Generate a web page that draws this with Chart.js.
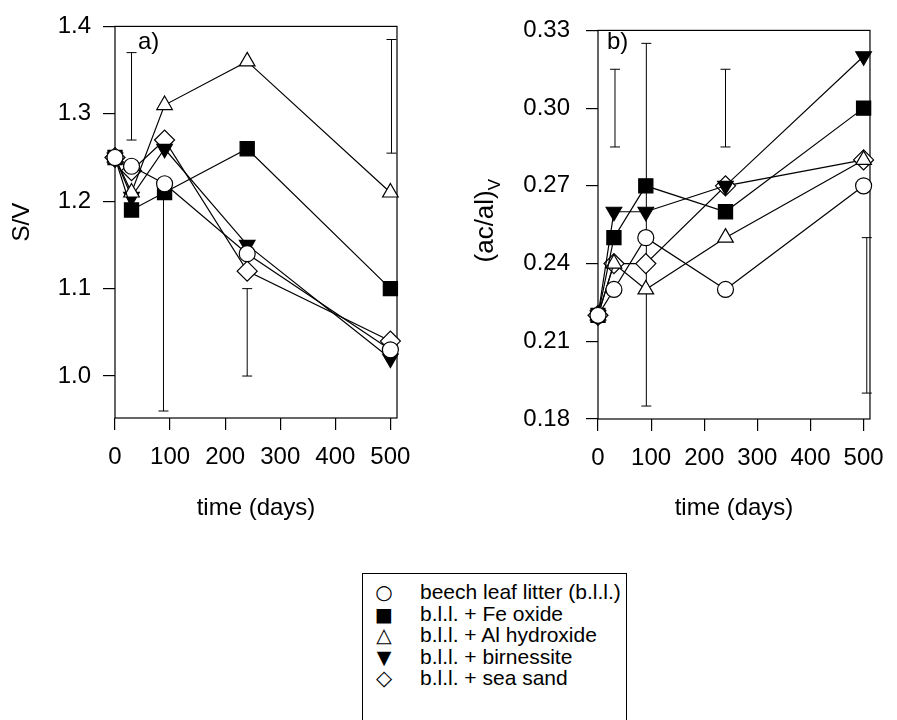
<!DOCTYPE html>
<html>
<head>
<meta charset="utf-8">
<script src="https://cdn.jsdelivr.net/npm/chart.js@4.4.0/dist/chart.umd.min.js"></script>
<style>
  body { margin: 0; background: #fff; width: 897px; height: 720px; overflow: hidden; position: relative;
         font-family: "Liberation Sans", Arial, sans-serif; }
  #chartA { position: absolute; left: 0; top: 0; }
  #chartB { position: absolute; left: 440px; top: 0; }
  #legend { position: absolute; left: 362px; top: 573px; width: 265px; height: 170px;
            border: 1px solid #000; box-sizing: border-box; }
  .row { position: absolute; left: 0; height: 22px; line-height: 22px; font-size: 21px; color: #000; }
  .mk { position: absolute; left: 8px; width: 26px; text-align: center; font-family: "DejaVu Sans"; }
  .tx { position: absolute; left: 57px; white-space: nowrap; }
</style>
</head>
<body>
<canvas id="chartA" width="440" height="545"></canvas>
<canvas id="chartB" width="457" height="545"></canvas>
<div id="legend"></div>
<script>
// sampling times (days)
const days = [0, 30, 90, 240, 500];
const dayTicks = [0, 100, 200, 300, 400, 500];

const seriesNames = [
  'beech leaf litter (b.l.l.)',
  'b.l.l. + Fe oxide',
  'b.l.l. + Al hydroxide',
  'b.l.l. + birnessite',
  'b.l.l. + sea sand'
];

// a) S/V
const svBeech = [1.25, 1.24, 1.22, 1.14, 1.03];
const svFe    = [1.25, 1.19, 1.21, 1.26, 1.10];
const svAl    = [1.25, 1.21, 1.31, 1.36, 1.21];
const svBirn  = [1.25, 1.205, 1.26, 1.15, 1.02];
const svSand  = [1.25, 1.235, 1.27, 1.12, 1.04];
const svTicks = [1.0, 1.1, 1.2, 1.3, 1.4];
const svErrDays = [30, 88, 240, 502];
const svErrLow  = [1.27, 0.96, 1.00, 1.255];
const svErrHigh = [1.37, 1.21, 1.10, 1.385];

// b) (ac/al)V
const acBeech = [0.22, 0.23, 0.25, 0.23, 0.27];
const acFe    = [0.22, 0.25, 0.27, 0.26, 0.30];
const acAl    = [0.22, 0.24, 0.23, 0.25, 0.28];
const acBirn  = [0.22, 0.26, 0.26, 0.27, 0.32];
const acSand  = [0.22, 0.24, 0.24, 0.27, 0.28];
const acTicks = [0.18, 0.21, 0.24, 0.27, 0.30, 0.33];
const acErrDays = [32, 91, 240, 506];
const acErrLow  = [0.285, 0.185, 0.285, 0.19];
const acErrHigh = [0.315, 0.325, 0.315, 0.25];

const FONT = '"Liberation Sans", Arial, sans-serif';
const markers = [
  { style: 'circle',   rot: 0,   r: 8,  fill: '#fff', glyph: '\u25CB', gsize: 20 },
  { style: 'rect',     rot: 0,   r: 10, fill: '#000', glyph: '\u25A0', gsize: 19 },
  { style: 'triangle', rot: 0,   r: 9,  fill: '#fff', glyph: '\u25B3', gsize: 20 },
  { style: 'triangle', rot: 180, r: 9,  fill: '#000', glyph: '\u25BC', gsize: 19 },
  { style: 'rectRot',  rot: 0,   r: 10, fill: '#fff', glyph: '\u25C7', gsize: 21 }
];

// box round the plot area
const framePlugin = {
  id: 'frame',
  beforeDatasetsDraw(chart) {
    const a = chart.chartArea, ctx = chart.ctx;
    ctx.save();
    ctx.strokeStyle = '#000';
    ctx.lineWidth = 1.2;
    ctx.strokeRect(a.left, a.top, a.right - a.left, a.bottom - a.top);
    ctx.restore();
  }
};

// panel letter and the subscripted y title
const textPlugin = {
  id: 'panelText',
  afterDraw(chart, args, opts) {
    const a = chart.chartArea, ctx = chart.ctx;
    ctx.save();
    ctx.fillStyle = '#000';
    ctx.font = '24px ' + FONT;
    ctx.textBaseline = 'alphabetic';
    ctx.textAlign = 'left';
    ctx.fillText(opts.label, a.left + opts.labelDx, 49);
    if (opts.yTitle) {
      ctx.translate(opts.yTitleX, (a.top + a.bottom) / 2 - 4);
      ctx.rotate(-Math.PI / 2);
      ctx.font = '26px ' + FONT;
      const w1 = ctx.measureText(opts.yTitle).width;
      ctx.font = '17px ' + FONT;
      const w2 = ctx.measureText(opts.ySub).width;
      const x0 = -(w1 + w2) / 2;
      ctx.textBaseline = 'middle';
      ctx.font = '26px ' + FONT;
      ctx.fillText(opts.yTitle, x0, 0);
      ctx.font = '17px ' + FONT;
      ctx.fillText(opts.ySub, x0 + w1, 9);
    }
    ctx.restore();
  }
};

function makePanel(id, o) {
  const datasets = o.values.map((vals, i) => ({
    label: seriesNames[i],
    data: days.map((d, j) => ({ x: d, y: vals[j] })),
    borderColor: '#000',
    borderWidth: 1.2,
    pointStyle: markers[i].style,
    pointRotation: markers[i].rot,
    pointRadius: markers[i].r,
    pointBackgroundColor: markers[i].fill,
    pointBorderColor: '#000',
    pointBorderWidth: 1.2,
    clip: false
  }));
  // error bars, drawn behind the series
  o.errDays.forEach((d, i) => datasets.push({
    data: [{ x: d, y: o.errLow[i] }, { x: d, y: o.errHigh[i] }],
    borderColor: '#000',
    borderWidth: 1,
    pointStyle: 'line',
    pointRadius: 5,
    pointBorderColor: '#000',
    pointBorderWidth: 1,
    clip: false
  }));

  return new Chart(document.getElementById(id), {
    type: 'line',
    data: { datasets },
    options: {
      responsive: false,
      animation: false,
      events: [],
      layout: { padding: { left: 0, top: 23, right: o.padRight, bottom: 8 } },
      plugins: {
        legend: { display: false },
        tooltip: { enabled: false },
        panelText: o.text
      },
      scales: {
        x: {
          type: 'linear', min: 0, max: 512,
          afterBuildTicks: s => { s.ticks = dayTicks.map(v => ({ value: v })); },
          afterFit: s => { s.height = o.xHeight; },
          border: { display: false },
          grid: { display: true, drawOnChartArea: false, drawTicks: true, tickLength: 12, color: '#000', lineWidth: 1.2 },
          ticks: { color: '#000', font: { size: 24, family: FONT }, padding: 13, maxRotation: 0, autoSkip: false },
          title: { display: true, text: 'time (days)', color: '#000', font: { size: 24, family: FONT }, padding: { top: 0, bottom: 14 } }
        },
        y: {
          type: 'linear', min: o.yMin, max: o.yMax,
          afterBuildTicks: s => { s.ticks = o.yTicks.map(v => ({ value: v })); },
          afterFit: s => { s.width = o.yWidth; },
          border: { display: false },
          grid: { display: true, drawOnChartArea: false, drawTicks: true, tickLength: 12, color: '#000', lineWidth: 1.2 },
          ticks: { color: '#000', font: { size: 24, family: FONT }, padding: o.yPad, autoSkip: false,
                   callback: v => v.toFixed(o.digits) },
          title: { display: !!o.yTitle, text: o.yTitle, color: '#000', font: { size: 24, family: FONT }, padding: { top: 8, bottom: 0 } }
        }
      }
    },
    plugins: [framePlugin, textPlugin]
  });
}

makePanel('chartA', {
  values: [svBeech, svFe, svAl, svBirn, svSand],
  errDays: svErrDays, errLow: svErrLow, errHigh: svErrHigh,
  yMin: 0.952, yMax: 1.4, yTicks: svTicks, digits: 1,
  yWidth: 115, yPad: 12, padRight: 43, xHeight: 119,
  yTitle: 'S/V',
  text: { label: 'a)', labelDx: 23 }
});

makePanel('chartB', {
  values: [acBeech, acFe, acAl, acBirn, acSand],
  errDays: acErrDays, errLow: acErrLow, errHigh: acErrHigh,
  yMin: 0.18, yMax: 0.33, yTicks: acTicks, digits: 2,
  yWidth: 158, yPad: 16, padRight: 16, xHeight: 118,
  yTitle: '',
  text: { label: 'b)', labelDx: 9, yTitle: '(ac/al)', ySub: 'V', yTitleX: 46 }
});

// legend box under the panels
const legend = document.getElementById('legend');
seriesNames.forEach((name, i) => {
  const row = document.createElement('div');
  row.className = 'row';
  row.style.top = (7 + i * 21.6) + 'px';
  row.innerHTML = '<span class="mk" style="font-size:' + markers[i].gsize + 'px">' + markers[i].glyph +
                  '</span><span class="tx">' + name + '</span>';
  legend.appendChild(row);
});
</script>
</body>
</html>
